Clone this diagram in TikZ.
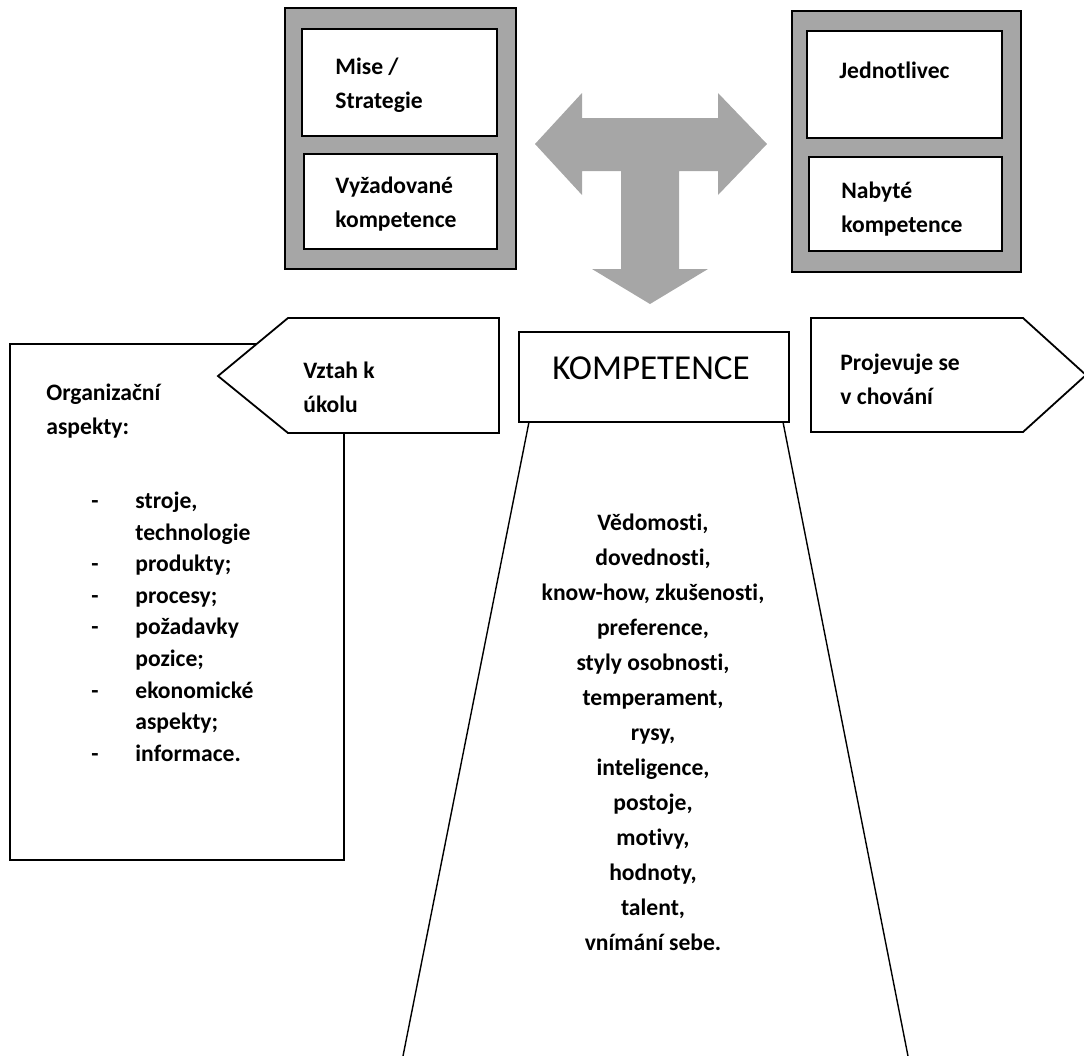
\documentclass[tikz,border=0pt]{standalone}
\usepackage{fontspec}
\setmainfont{Carlito}[Ligatures=NoCommon]
\usepackage{tikz}
\definecolor{framegray}{RGB}{166,166,166}

\begin{document}
\begin{tikzpicture}[x=0.5pt,y=-0.5pt,
    outerbox/.style={draw, line width=0.9pt, fill=framegray, inner sep=0pt},
    innerbox/.style={draw, line width=0.9pt, fill=white, inner sep=0pt},
    lbl/.style={font=\bfseries\fontsize{11.8}{17}\selectfont, align=left, anchor=west, inner sep=0pt}]
    \useasboundingbox (0,0) rectangle (1084,1056);

    \node[outerbox, minimum width=115.5pt, minimum height=130.5pt] (leftframe) at (400.5,138.5) {};
    \node[innerbox, minimum width=97.5pt, minimum height=53.5pt] (mise) at (399.5,82.5) {};
    \node[innerbox, minimum width=96.5pt, minimum height=47.5pt] (vyzad) at (400.5,201.5) {};
    \node[lbl] (misetext) at (335,85) {Mise /\\Strategie};
    \node[lbl] (vyzadtext) at (335,204) {Vyžadované\\kompetence};

    \node[outerbox, minimum width=114.5pt, minimum height=130.5pt] (rightframe) at (906.5,141.5) {};
    \node[innerbox, minimum width=97.5pt, minimum height=53.5pt] (jedno) at (904.5,84.5) {};
    \node[innerbox, minimum width=96.5pt, minimum height=47pt] (nabyte) at (905.5,204) {};
    \node[lbl] (jednotext) at (839,70) {Jednotlivec};
    \node[lbl] (nabytetext) at (841,209.5) {Nabyté\\kompetence};

    \fill[framegray] (535,144) -- (582,93) -- (582,118) -- (718,118) -- (718,93) -- (767,144)
        -- (718,195) -- (718,171) -- (679,171) -- (679,269) -- (708,269) -- (650,304)
        -- (592,269) -- (621,269) -- (621,171) -- (582,171) -- (582,195) -- cycle;

    \node[draw, line width=0.9pt, fill=white, minimum width=167pt, minimum height=258pt] (orgbox) at (177,602) {};
    \draw[line width=0.9pt, fill=white] (218,376) -- (288,318) -- (499,318) -- (499,433) -- (288,433) -- cycle;
    \node[lbl] (vztah) at (303,387.5) {Vztah k\\úkolu};
    \node[lbl] (orgtitle) at (46,411.5) {Organizační\\aspekty:};
    \node[lbl, font=\bfseries\fontsize{11.8}{15.8}\selectfont] (orglist) at (91,628.5) {%
        \begin{tabular}{@{}p{22pt}@{}l@{}}
        - & stroje,\\
          & technologie\\
        - & produkty;\\
        - & procesy;\\
        - & požadavky\\
          & pozice;\\
        - & ekonomické\\
          & aspekty;\\
        - & informace.
        \end{tabular}};

    \draw[line width=0.9pt, fill=white] (811,318) -- (1023,318) -- (1086,375) -- (1023,432) -- (811,432) -- cycle;
    \node[lbl] (projev) at (840,379.5) {Projevuje se\\v chování};

    \node[draw, line width=0.9pt, minimum width=135pt, minimum height=45pt] (komp) at (654,377) {};
    \node[font=\fontsize{17.5}{20}\selectfont, inner sep=0pt] (kompt) at (651,368) {KOMPETENCE};

    \coordinate (tl) at (529,422);
    \coordinate (bl) at (403,1056);
    \coordinate (tr) at (783,422);
    \coordinate (br) at (908,1056);
    \draw[line width=0.7pt] (tl) -- (bl);
    \draw[line width=0.7pt] (tr) -- (br);

    \node[font=\bfseries\fontsize{11.8}{17.5}\selectfont, align=center, inner sep=0pt] (traits) at (653,732) {%
        Vědomosti,\\dovednosti,\\know-how, zkušenosti,\\preference,\\styly osobnosti,\\temperament,\\rysy,\\inteligence,\\postoje,\\motivy,\\hodnoty,\\talent,\\vnímání sebe.};
\end{tikzpicture}
\end{document}
